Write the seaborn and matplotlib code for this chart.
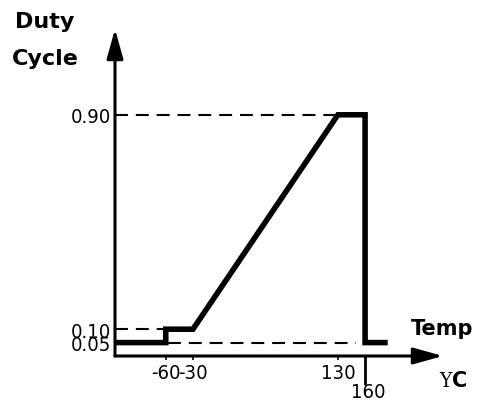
import matplotlib
matplotlib.use('Agg')
import matplotlib.pyplot as plt
import seaborn as sns

# curve points (temperature, duty cycle)
temps = [-116, -60, -60, -30, 130, 160, 160, 185]
duty = [0.05, 0.05, 0.10, 0.10, 0.90, 0.90, 0.05, 0.05]

# tick values and labels
y_ticks = [0.05, 0.10, 0.90]
y_labels = ['0.05', '0.10', '0.90']
x_ticks = [-60, -30, 130]
x_labels = ['-60', '-30', '130']
cut_temp = 160

sns.set_style('white')
plt.rcParams['font.family'] = ['DejaVu Sans']
plt.rcParams['font.stretch'] = 'condensed'
plt.rcParams['text.color'] = 'black'
plt.rcParams['xtick.color'] = 'black'
plt.rcParams['ytick.color'] = 'black'

fig = plt.figure(figsize=(4.79, 4.06), dpi=100)
W, H = 479, 406
ax = fig.add_axes([115 / W, (H - 357) / H, (443 - 115) / W, (357 - 30) / H])
ax.set_xlim(-116, 246)
ax.set_ylim(0, 1.22)
for s in ax.spines.values():
    s.set_visible(False)

# dashed reference lines
dash = dict(color='black', lw=1.5, linestyle=(0, (6.2, 3.8)))
ax.hlines(0.90, -116, 127, **dash)
ax.hlines(0.10, -116, -62, **dash)
ax.hlines(0.05, -58, 150, **dash)

# duty cycle curve
sns.lineplot(x=temps, y=duty, sort=False, estimator=None, color='black',
             linewidth=4, ax=ax, solid_joinstyle='miter', solid_capstyle='butt')

# axes with arrows
arrow = dict(arrowstyle='-|>,head_length=0.9,head_width=0.25', lw=2.2,
             color='black', mutation_scale=20, shrinkA=0, shrinkB=0)
ax.annotate('', xy=(1, 0), xytext=(0, 0), xycoords='axes fraction', arrowprops=arrow)
ax.annotate('', xy=(0, 1), xytext=(0, 0), xycoords='axes fraction', arrowprops=arrow)

ax.set_yticks(y_ticks)
ax.set_yticklabels(y_labels)
ax.set_xticks(x_ticks)
ax.set_xticklabels(x_labels)
ax.tick_params(axis='y', length=0, pad=3, labelsize=14.5)
ax.tick_params(axis='x', length=3, width=1.2, pad=2, labelsize=14.5, direction='out')
ax.xaxis.set_ticks_position('bottom')

# 160 marker below the axis
ax.plot([cut_temp, cut_temp], [0, -0.105], color='black', lw=2, clip_on=False)
ax.text(cut_temp + 4, -0.098, str(cut_temp), ha='center', va='top', fontsize=14.5)

ax.set_xlabel('')
ax.set_ylabel('')

bold = dict(fontweight='bold', family='DejaVu Sans', fontstretch='normal', va='baseline')
fig.text(15 / W, 1 - 28 / H, 'Duty', fontsize=16, **bold)
fig.text(12 / W, 1 - 65 / H, 'Cycle', fontsize=16, **bold)
fig.text(411 / W, 1 - 335 / H, 'Temp', fontsize=15, **bold)
fig.text(439 / W, 1 - 387 / H, 'Y', fontsize=15, family='DejaVu Serif', va='baseline')
fig.text(452 / W, 1 - 387 / H, 'C', fontsize=15, **bold)

fig.savefig('out.png', dpi=100)
